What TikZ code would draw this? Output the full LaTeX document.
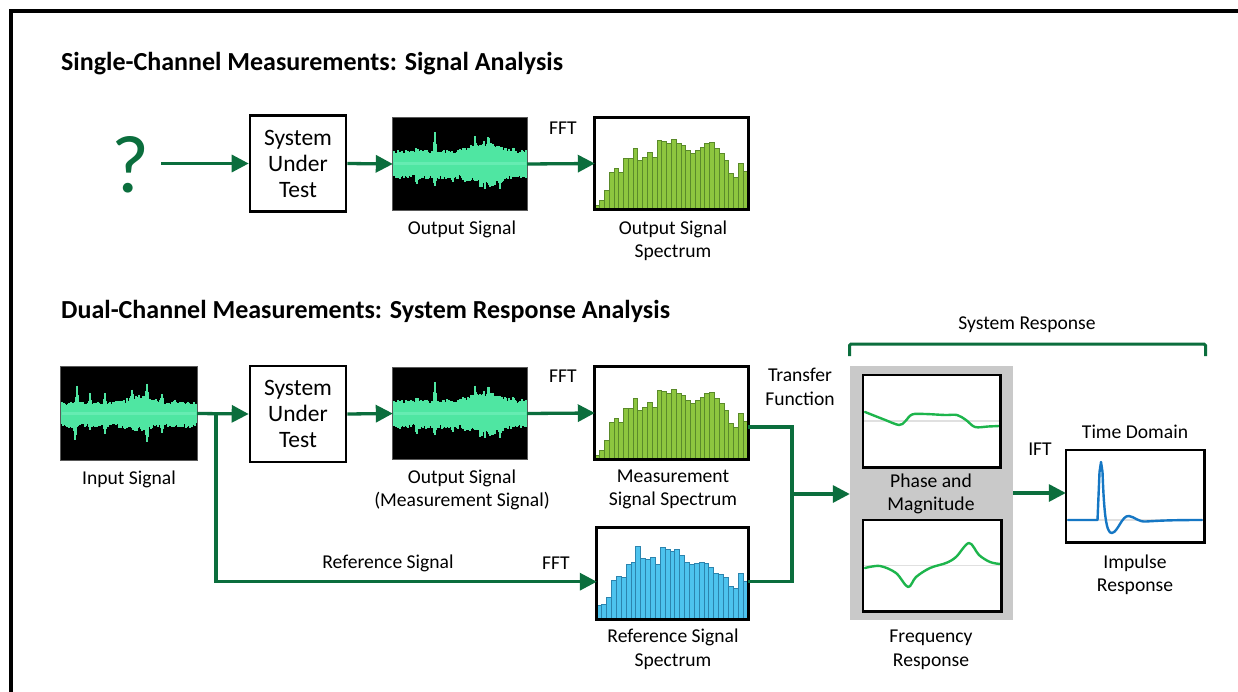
\documentclass[tikz,border=0pt]{standalone}
\usepackage{fontspec}
\setmainfont{Carlito}
\usetikzlibrary{arrows.meta,calc}
\definecolor{dgreen}{HTML}{0B6E3D}
\definecolor{wavegreen}{HTML}{4FE6A2}
\definecolor{wavelight}{HTML}{8AF5CC}
\definecolor{bargreen}{HTML}{8DC63F}
\definecolor{bargreenline}{HTML}{5A8A2A}
\definecolor{barblue}{HTML}{4DC3EE}
\definecolor{barblueline}{HTML}{2C84AE}
\definecolor{respgreen}{HTML}{1DB54C}
\definecolor{respblue}{HTML}{1577C4}
\definecolor{panelgray}{HTML}{C9C9C9}
\newcommand\mywave[7]{%
  \pgfmathsetseed{#2}%
  \begin{scope}[shift={(#1.west)}]
  \foreach \i in {1,...,#3}{%
    \pgfmathsetmacro\wu{(#4)*(0.75+0.35*rnd)+(#6)*(0.6+0.4*rnd)}%
    \pgfmathsetmacro\wd{(#5)*(0.75+0.35*rnd)+(#7)*(0.6+0.4*rnd)}%
    \draw[wavegreen,line width=1.4pt] (\i,-\wu) -- (\i,\wd);
  }
  \draw[wavelight,line width=3pt,opacity=0.4] (1,0) -- (#3,0);
  \end{scope}}
\newcommand\myspec[4]{%
  \begin{scope}[shift={(#1.south west)}]
  \foreach \h [count=\k from 0] in {#4}{\filldraw[#3] (\k*#2,0) rectangle ++(#2,-\h);}
  \end{scope}}
\begin{document}
\begin{tikzpicture}[x=1pt,y=-1pt,
  lbl/.style={font=\fontsize{19.6}{23.5}\selectfont, align=center, inner sep=0},
  title/.style={font=\fontsize{26}{30}\selectfont\bfseries, anchor=west, inner sep=0},
  sutbox/.style={draw=black, line width=2.6pt, fill=white, minimum width=96pt, minimum height=96pt, inner sep=0, align=center, font=\fontsize{23.5}{26}\selectfont},
  wavebox/.style={fill=black, minimum width=134pt, minimum height=92pt, inner sep=0},
  specbox/.style={fill=white, minimum width=153pt, minimum height=92pt, inner sep=0},
  plotbox/.style={fill=white, minimum width=138pt, minimum height=92pt, inner sep=0},
  conn/.style={draw=dgreen, line width=3.3pt, -{Triangle[length=17pt,width=17pt]}},
  connline/.style={draw=dgreen, line width=3.3pt},
  greenbar/.style={fill=bargreen, draw=bargreenline, line width=0.7pt},
  bluebar/.style={fill=barblue, draw=barblueline, line width=0.7pt},
  frame/.style={draw=black, line width=2.8pt},
  waveframe/.style={draw=black!65, line width=1.2pt},
  resp/.style={respgreen, line width=2.4pt, line join=round, line cap=round},
  refline/.style={draw=black!12, line width=1.6pt},
]
\useasboundingbox (0,0) rectangle (1238,692);
\fill[white] (0,0) rectangle (1238,692);
\draw[line width=4pt] (11.3,692) -- (11.3,11) -- (1238,11);

% titles
\node[title] (t1) at (61,64) {Single-Channel Measurements: Signal Analysis};
\node[title] (t2) at (61,311) {Dual-Channel Measurements: System Response Analysis};

% ---------- single channel ----------
\node[text=dgreen, font=\fontsize{82}{82}\selectfont, inner sep=0] (q) at (130,165) {?};
\node[sutbox] (sut1) at (298,163.5) {System\\Under\\Test};
\node[wavebox] (out1) at (460,164) {};
\node[specbox] (spec1) at (671.5,163.5) {};

\mywave{out1}{11}{133}
  {13+8*max(0,1-abs(\i-92)/28)}
  {14+9*max(0,1-abs(\i-92)/28)}
  {22*max(0,1-abs(\i-42)/2)+10*max(0,1-abs(\i-82)/2.5)+10*max(0,1-abs(\i-95)/2.5)+5*max(0,1-abs(\i-24)/2.5)+5*max(0,1-abs(\i-120)/2.5)}
  {13*max(0,1-abs(\i-42)/2)+12*max(0,1-abs(\i-24)/2)+9*max(0,1-abs(\i-107)/2)+6*max(0,1-abs(\i-60)/2.5)}
\draw[waveframe] (out1.south west) rectangle (out1.north east);

\myspec{spec1}{4.78}{greenbar}{4,9,19,37,41,37,51,51,61,49,52,57,52,69,68,66,70,66,64,59,56,59,62,66,67,61,56,49,36,32,46,38}
\draw[frame] (spec1.south west) rectangle (spec1.north east);

\draw[conn] ($(q.east)+(12,-1.5)$) -- (sut1.west);
\draw[conn] (sut1.east) -- (out1.west);
\draw[conn] (out1.east) -- (spec1.west);

\node[lbl] (fft1) at (563,128) {FFT};
\node[lbl] (lout1) at (462,229) {Output Signal};
\node[lbl] (lspec1) at (673,241) {Output Signal\\Spectrum};

% ---------- dual channel ----------
\node[wavebox, minimum width=136pt, minimum height=93pt] (in2) at (129,413.5) {};
\node[sutbox] (sut2) at (298,414) {System\\Under\\Test};
\node[wavebox] (out2) at (460,413.5) {};
\node[specbox] (spec2) at (671.5,413) {};
\node[specbox, minimum width=151pt] (ref) at (672.5,573.5) {};

\mywave{in2}{7}{135}
  {11+7*max(0,1-abs(\i-79)/25)}
  {13+4*max(0,1-abs(\i-79)/25)}
  {20*max(0,1-abs(\i-16)/2)+10*max(0,1-abs(\i-29)/2)+11*max(0,1-abs(\i-44)/2)+8*max(0,1-abs(\i-71)/2)+15*max(0,1-abs(\i-86)/2)+14*max(0,1-abs(\i-101)/2)+5*max(0,1-abs(\i-114)/2)}
  {16*max(0,1-abs(\i-14)/2)+7*max(0,1-abs(\i-29)/2)+9*max(0,1-abs(\i-44)/2)+16*max(0,1-abs(\i-86)/2)+11*max(0,1-abs(\i-101)/2)}
\draw[waveframe] (in2.south west) rectangle (in2.north east);

\mywave{out2}{11}{133}
  {13+8*max(0,1-abs(\i-92)/28)}
  {14+9*max(0,1-abs(\i-92)/28)}
  {22*max(0,1-abs(\i-42)/2)+10*max(0,1-abs(\i-82)/2.5)+10*max(0,1-abs(\i-95)/2.5)+5*max(0,1-abs(\i-24)/2.5)+5*max(0,1-abs(\i-120)/2.5)}
  {13*max(0,1-abs(\i-42)/2)+12*max(0,1-abs(\i-24)/2)+9*max(0,1-abs(\i-107)/2)+6*max(0,1-abs(\i-60)/2.5)}
\draw[waveframe] (out2.south west) rectangle (out2.north east);

\myspec{spec2}{4.78}{greenbar}{4,9,19,37,41,37,51,51,61,49,52,57,52,69,68,66,70,66,64,59,56,59,62,66,67,61,56,49,36,32,46,38}
\draw[frame] (spec2.south west) rectangle (spec2.north east);

\myspec{ref}{4.87}{bluebar}{14,15,22,39,43,42,55,57,73,61,60,62,55,72,70,68,70,64,57,55,56,57,56,52,46,45,42,33,31,46,38}
\draw[frame] (ref.south west) rectangle (ref.north east);

\coordinate (br) at (216,414);
\coordinate (j) at (792,494);

\draw[conn] (in2.east) -- (sut2.west);
\draw[conn] (sut2.east) -- (out2.west);
\draw[conn] (out2.east) -- (spec2.west);
\draw[conn] (br) |- ($(ref.west)+(0,8.2)$);

% system response panel
\node[fill=panelgray, minimum width=163pt, minimum height=254pt, inner sep=0] (panel) at (931.5,493) {};
\node[plotbox, minimum width=137pt] (pm) at (931.5,421) {};
\node[plotbox, minimum height=91pt] (fr) at (932,565.5) {};
\node[plotbox] (imp) at (1135,496) {};

\draw[refline] (864,421) -- (999,421);
\draw[resp] plot[smooth, tension=0.55] coordinates {(865,412) (884,419.5) (899,425) (905,421.5) (912,414.5) (925,414) (945,415) (957,415) (966,420) (975,427) (988,426.5) (999,426)};
\draw[refline] (864,565.5) -- (1000,565.5);
\draw[resp] plot[smooth, tension=0.55] coordinates {(865,568) (880,566) (896,573) (908,587) (916,577) (930,568) (946,563) (956,557) (969,543) (979,555) (990,562) (1000,564)};
\draw[refline] (1067,520) -- (1203,520);
\draw[respblue, line width=2.4pt, line join=round, line cap=round] (1068,520) -- (1097.5,520) -- (1099.5,472) -- (1101,462) -- (1102.5,472)
  .. controls (1104,512) and (1106,534) .. (1112,533)
  .. controls (1118,532) and (1122,515) .. (1129,516)
  .. controls (1135,517) and (1138,522) .. (1146,521.5)
  .. controls (1155,521) and (1165,520) .. (1202,520);
\draw[frame, line width=2.6pt] (pm.south west) rectangle (pm.north east);
\draw[frame, line width=2.6pt] (fr.south west) rectangle (fr.north east);
\draw[frame, line width=2.6pt] (imp.south west) rectangle (imp.north east);

\draw[connline] ($(spec2.east)+(0,14)$) -| (j);
\draw[connline] ($(ref.east)+(0,8.2)$) -| (j);
\draw[conn] (j) -- (panel.west |- j);
\draw[conn] (panel.east) -- (panel.east -| imp.west);

% bracket
\coordinate (bl) at (849.5,356);
\coordinate (brr) at (1205.5,356);
\draw[dgreen, line width=3pt, rounded corners=1.5pt] (bl) -- ++(0,-12) -| (brr);

% labels
\node[lbl] (fft2) at (563,376) {FFT};
\node[lbl] (fft3) at (556,563) {FFT};
\node[lbl] (lin) at (129,479) {Input Signal};
\node[lbl] (lout2) at (462,490) {Output Signal\\(Measurement Signal)};
\node[lbl] (lspec2) at (673,489.5) {Measurement\\Signal Spectrum};
\node[lbl] (ltf) at (800,387) {Transfer\\Function};
\node[lbl] (lref) at (388,563) {Reference Signal};
\node[lbl] (lrefs) at (673,649.5) {Reference Signal\\Spectrum};
\node[lbl] (lpm) at (931,494) {Phase and\\Magnitude};
\node[lbl] (lfr) at (931,650) {Frequency\\Response};
\node[lbl] (lsr) at (1027,325) {System Response};
\node[lbl] (lift) at (1040,449) {IFT};
\node[lbl] (ltd) at (1135,432) {Time Domain};
\node[lbl] (limp) at (1135,575) {Impulse\\Response};
\end{tikzpicture}
\end{document}
